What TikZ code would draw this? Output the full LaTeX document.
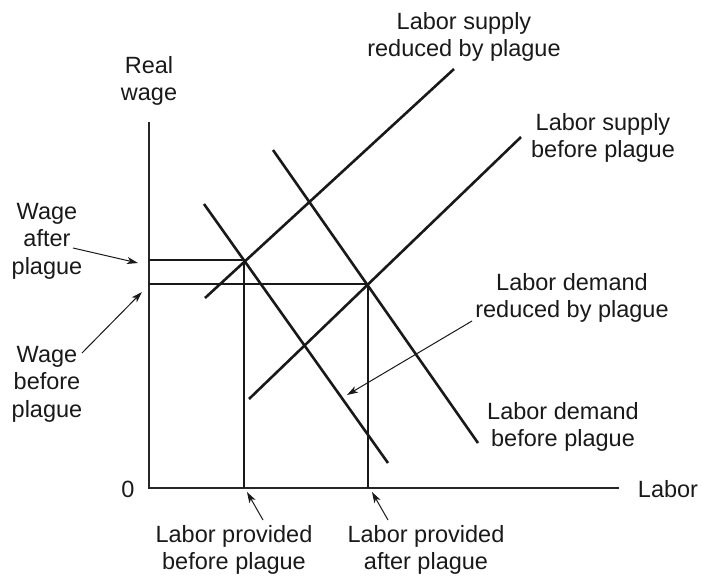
\documentclass[tikz,border=0pt]{standalone}
\usepackage{fontspec}
\setmainfont{Liberation Sans}
\usetikzlibrary{arrows.meta}
\begin{document}
\begin{tikzpicture}[x=1pt,y=-1pt,
  curve/.style={line width=2.6pt,color=black!90},
  axis/.style={line width=1.4pt,color=black!85},
  guide/.style={line width=2.5pt,color=black!90},
  pointer/.style={line width=1pt,color=black!90,-{Stealth[length=11pt,width=7pt,inset=3pt]}},
  lbl/.style={font=\fontsize{23.5}{27.5}\selectfont,align=center,inner sep=0pt,text=black!90}]
\useasboundingbox (0,0) rectangle (702,576);
% axes
\coordinate (O) at (149,488);
\coordinate (ytop) at (149,122);
\coordinate (xend) at (619,488);
\draw[axis] (ytop) -- (O) -- (xend);
% equilibrium points
\coordinate (e1) at (244,260);
\coordinate (e0) at (368,284);
\coordinate (w1) at (149,260);
\coordinate (w0) at (149,284);
\coordinate (l1) at (244,488);
\coordinate (l0) at (368,488);
\draw[guide] (w1) -- (e1) -- (l1);
\draw[guide] (w0) -- (e0) -- (l0);
% curves
\coordinate (sra) at (205,298); \coordinate (srb) at (454,69);
\coordinate (sba) at (249,399); \coordinate (sbb) at (521,137);
\coordinate (dra) at (204,204); \coordinate (drb) at (388,463);
\coordinate (dba) at (273,150); \coordinate (dbb) at (478,443);
\draw[curve] (sra) -- (srb);
\draw[curve] (sba) -- (sbb);
\draw[curve] (dra) -- (drb);
\draw[curve] (dba) -- (dbb);
% labels
\node[lbl] (realwage) at (149,81) {Real\\wage};
\node[lbl] (zero) at (128,489) {0};
\node[lbl] (labor) at (668,489) {Labor};
\node[lbl] (lsr) at (464,37) {Labor supply\\reduced by plague};
\node[lbl] (lsb) at (603,138) {Labor supply\\before plague};
\node[lbl] (ldr) at (572,298) {Labor demand\\reduced by plague};
\node[lbl] (ldb) at (563,427) {Labor demand\\before plague};
\node[lbl] (wa) at (47,241) {Wage\\after\\plague};
\node[lbl] (wb) at (47,384) {Wage\\before\\plague};
\node[lbl] (lpb) at (234,550) {Labor provided\\before plague};
\node[lbl] (lpa) at (426,550) {Labor provided\\after plague};
% pointers
\coordinate (wa0) at (73,248); \coordinate (wa1) at (138,263);
\coordinate (wb0) at (82,353); \coordinate (wb1) at (142,292);
\coordinate (ldr0) at (472,321); \coordinate (ldr1) at (347,395);
\coordinate (lpb0) at (263,520); \coordinate (lpb1) at (247,492);
\coordinate (lpa0) at (388,520); \coordinate (lpa1) at (372,492);
\draw[pointer] (wa0) -- (wa1);
\draw[pointer] (wb0) -- (wb1);
\draw[pointer] (ldr0) -- (ldr1);
\draw[pointer] (lpb0) -- (lpb1);
\draw[pointer] (lpa0) -- (lpa1);
\end{tikzpicture}
\end{document}
